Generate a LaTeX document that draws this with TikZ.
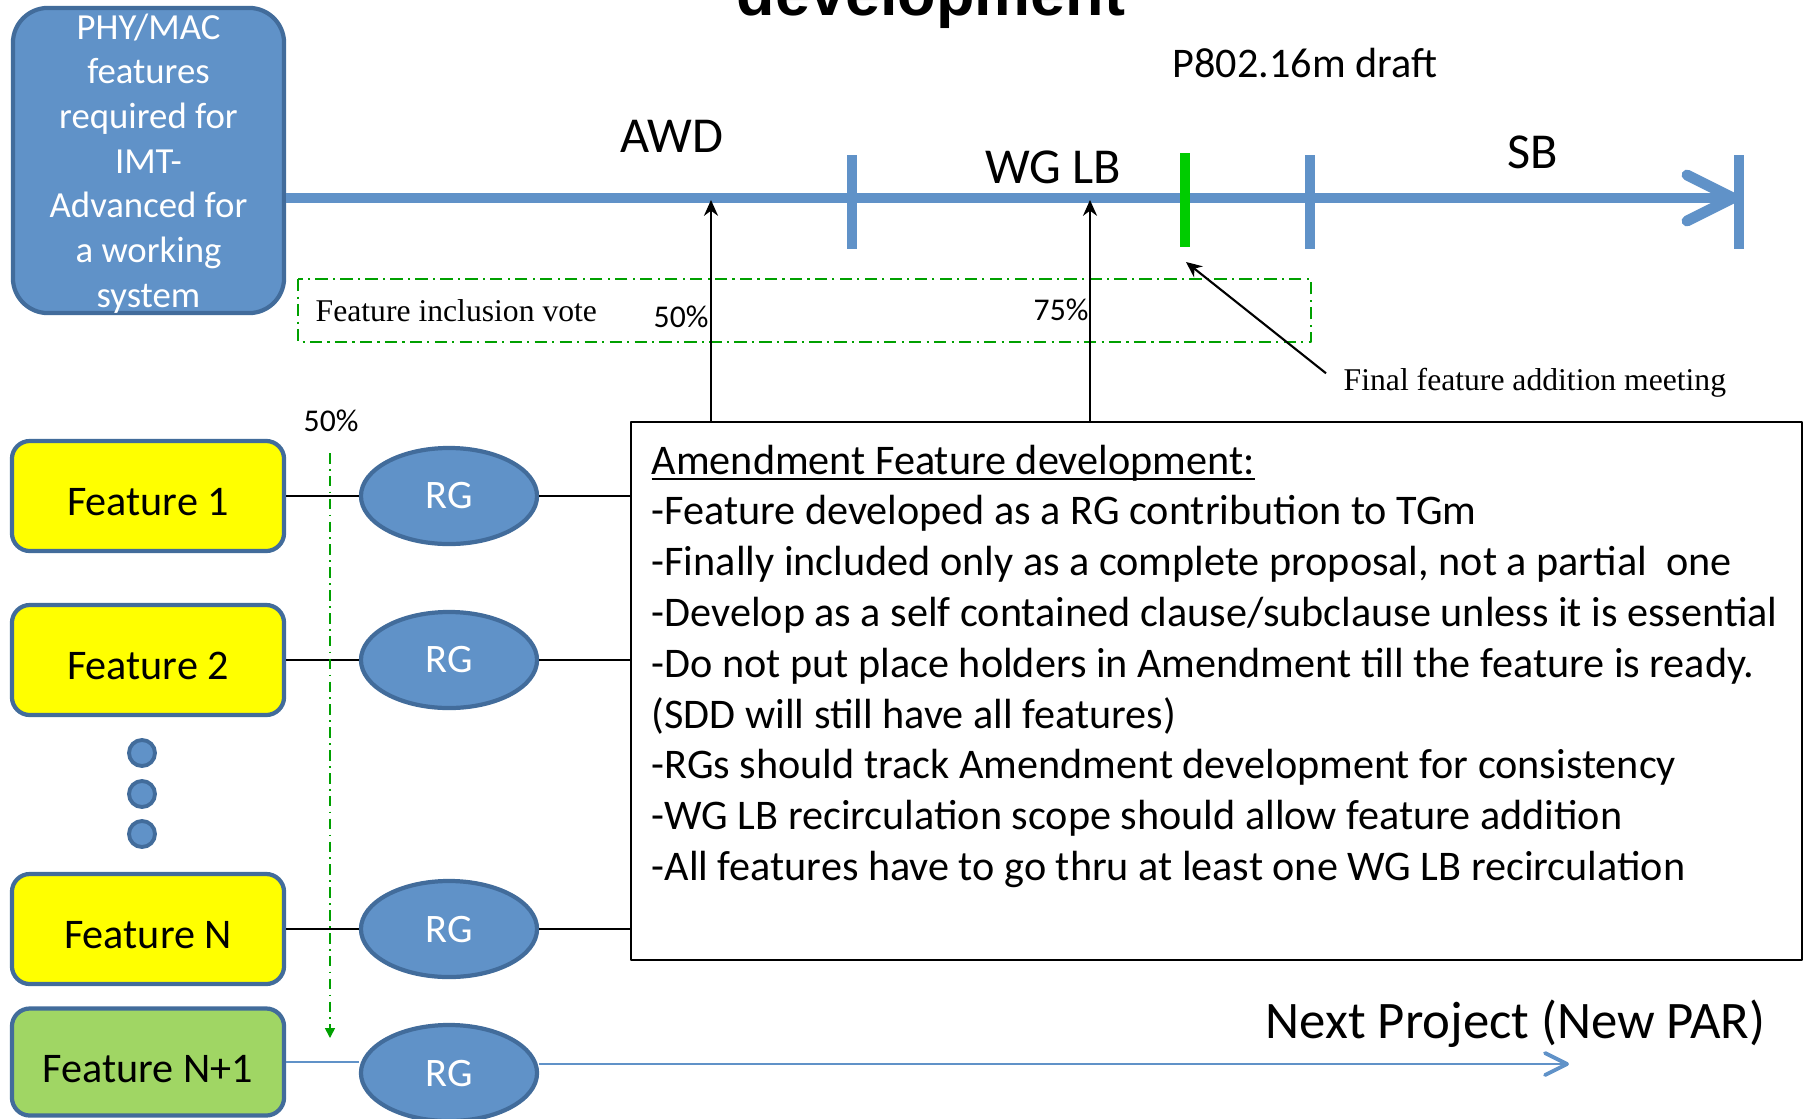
\documentclass[tikz,border=0pt]{standalone}
\usepackage{fontspec}
\setmainfont{Carlito}
\newfontfamily\timesfont{Liberation Serif}
\newfontfamily\arialfont{Liberation Sans}
\usetikzlibrary{shapes.geometric,arrows.meta}
\definecolor{tlblue}{RGB}{96,146,200}
\definecolor{edgeblue}{RGB}{66,108,155}
\definecolor{featyellow}{RGB}{255,255,0}
\definecolor{featgreen}{RGB}{160,214,100}
\definecolor{tickgreen}{RGB}{0,204,0}
\definecolor{votegreen}{RGB}{0,160,0}
\newlength\ulwd
\newcommand\ulwords[1]{\settowidth\ulwd{#1}\rlap{\rule[-1.6pt]{\ulwd}{0.5pt}}#1}
\begin{document}
\begin{tikzpicture}[x=0.01cm,y=-0.01cm,>={Stealth[length=4.5pt,width=4pt]},line join=round,
	feat/.style={draw=edgeblue,line width=1.2pt,rounded corners=0.18cm,fill=featyellow,minimum width=2.72cm,minimum height=1.1cm,inner sep=0pt,text height=11pt,text depth=0pt,font=\fontsize{12}{14}\selectfont},
	rg/.style={ellipse,draw=edgeblue,line width=1.2pt,fill=tlblue,minimum width=1.76cm,minimum height=0.96cm,inner sep=0pt,text=white,font=\fontsize{11.5}{14}\selectfont},
	moredot/.style={circle,draw=edgeblue,line width=1.1pt,fill=tlblue,minimum size=0.26cm,inner sep=0pt},
	tl/.style={tlblue,line width=3.1pt},
	link/.style={line width=0.6pt},
	nplink/.style={tlblue,line width=0.6pt},
	vote/.style={votegreen,line width=0.6pt,dash pattern=on 3.5pt off 1.5pt on 0.6pt off 1.5pt},
	votearrow/.style={votegreen,line width=0.45pt,dash pattern=on 3pt off 1.5pt on 0.5pt off 1.5pt,-{Triangle[length=2.8pt,width=2.8pt]}},
	ms/.style={anchor=base,font=\fontsize{14.3}{16}\selectfont},
	pct/.style={anchor=base west,inner sep=0pt,font=\fontsize{9}{10}\selectfont}]
	\useasboundingbox (0,0) rectangle (1804,1118);
	\node[anchor=base,font=\arialfont\bfseries\fontsize{17.9}{20}\selectfont] (title) at (931,15) {development};
	% requirement box
	\node[rounded corners=0.35cm,draw=edgeblue,line width=1.2pt,fill=tlblue,minimum width=2.71cm,minimum height=3.05cm,inner sep=0pt,text=white,align=center,text depth=-1.5pt,font=\fontsize{10.45}{12.7}\selectfont] (phy) at (148.5,160.5)
		{PHY/MAC\\features\\required for\\IMT-\\Advanced for\\a working\\system};
	% timeline
	\coordinate (tlend) at (1733,198);
	\draw[tl] (phy.east |- tlend) -- (tlend);
	\draw[tl,line cap=round] ([shift={(-46,-23)}]tlend) -- (tlend) -- ([shift={(-46,23)}]tlend);
	\foreach \x in {852,1310,1739} \draw[tl] (\x,155) -- (\x,249);
	\draw[tickgreen,line width=3.1pt] (1185,153) -- (1185,247);
	\node[ms] (awd) at (672,152) {AWD};
	\node[ms] (wglb) at (1053,183) {WG LB};
	\node[ms] (sb) at (1533,168) {SB};
	\node[anchor=base,font=\fontsize{12}{14}\selectfont] (draft) at (1305,77) {P802.16m draft};
	% vote window
	\draw[vote] (298,279) rectangle (1311,342);
	\node[anchor=base west,inner sep=0pt,font=\timesfont\fontsize{9}{11}\selectfont] (votetxt) at (315,321) {Feature inclusion vote};
	\node[pct] (p50) at (653,327) {50\%};
	\node[pct] (p75) at (1033,320) {75\%};
	% features and RGs
	\node[feat] (f1) at (148,496) {Feature 1};
	\node[feat] (f2) at (148,660) {Feature 2};
	\foreach \y in {753,794,834} \node[moredot] at (142,\y) {};
	\node[feat] (fN) at (148,929) {Feature N};
	\node[feat,fill=featgreen,minimum height=1.07cm,text height=11.5pt] (fN1) at (148,1062) {Feature N+1};
	\node[rg] (rg1) at (449,496) {RG};
	\node[rg] (rg2) at (449,660) {RG};
	\node[rg] (rgN) at (449,929) {RG};
	\node[rg] (rgN1) at (449,1073) {RG};
	% amendment notes
	\node[draw,line width=0.6pt,minimum width=11.71cm,minimum height=5.38cm,inner sep=0pt] (amend) at (1216.5,691) {};
	\node[anchor=north west,align=left,inner sep=0pt,font=\fontsize{12}{14.45}\selectfont] (amendtxt) at (651,444)
		{\ulwords{Amendment Feature development:}\\
		-Feature developed as a RG contribution to TGm\\
		-Finally included only as a complete proposal, not a partial\ \ one\\
		-Develop as a self contained clause/subclause unless it is essential\\
		-Do not put place holders in Amendment till the feature is ready.\\
		(SDD will still have all features)\\
		-RGs should track Amendment development for consistency\\
		-WG LB recirculation scope should allow feature addition\\
		-All features have to go thru at least one WG LB recirculation};
	\draw[link] (f1) -- (rg1) -- (rg1 -| amend.west);
	\draw[link] (f2) -- (rg2) -- (rg2 -| amend.west);
	\draw[link] (fN) -- (rgN) -- (rgN -| amend.west);
	% vote arrows
	\coordinate (awdpt) at (711,200);
	\coordinate (lbpt) at (1090,200);
	\draw[->,line width=0.6pt] (awdpt |- amend.north) -- (awdpt);
	\draw[->,line width=0.6pt] (lbpt |- amend.north) -- (lbpt);
	\node[anchor=base west,inner sep=0pt,font=\timesfont\fontsize{9}{11}\selectfont] (final) at (1343,390) {Final feature addition meeting};
	\coordinate (gbot) at (1186,262);
	\draw[->,line width=0.6pt] ([shift={(-17,-9)}]final.west) -- (gbot);
	\node[pct] (p50f) at (303,431) {50\%};
	\coordinate (vtop) at (330,453);
	\coordinate (vbot) at (330,1038);
	\draw[votearrow] (vtop) -- (vbot);
	% next project
	\coordinate (nextend) at (1567,1064);
	\node[anchor=base east,inner sep=0pt,font=\fontsize{15}{17}\selectfont] (next) at (1766,1038) {Next Project (New PAR)};
	\draw[nplink] (fN1) -- (fN1 -| rgN1.west);
	\draw[nplink] (rgN1.east |- nextend) -- (nextend);
	\draw[nplink,line width=1.1pt,line cap=round] ([shift={(-22,-11)}]nextend) -- (nextend) -- ([shift={(-22,11)}]nextend);
\end{tikzpicture}
\end{document}
